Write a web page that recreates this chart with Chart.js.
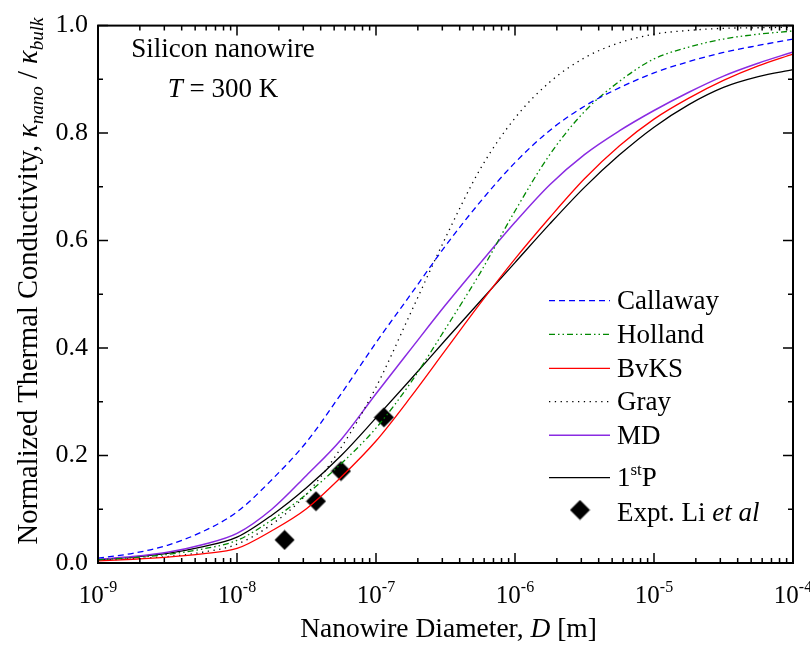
<!DOCTYPE html>
<html>
<head>
<meta charset="utf-8">
<script src="https://cdn.jsdelivr.net/npm/chart.js@4.4.1/dist/chart.umd.min.js"></script>
<style>
  html, body { margin: 0; padding: 0; background: #fff; }
</style>
</head>
<body>
<canvas id="chart" width="810" height="646"></canvas>
<script>
// diameters in metres, quarter-decade steps from 1e-9 to 1e-4
const diameters = [1e-9, 1.78e-9, 3.16e-9, 5.62e-9, 1e-8, 1.78e-8, 3.16e-8, 5.62e-8, 1e-7, 1.78e-7, 3.16e-7,
                   5.62e-7, 1e-6, 1.78e-6, 3.16e-6, 5.62e-6, 1e-5, 1.78e-5, 3.16e-5, 5.62e-5, 1e-4];

const callaway = [0.009, 0.018, 0.033, 0.058, 0.095, 0.155, 0.225, 0.315, 0.410, 0.500, 0.590,
                  0.672, 0.745, 0.805, 0.850, 0.884, 0.912, 0.933, 0.950, 0.963, 0.975];
const holland  = [0.006, 0.010, 0.016, 0.026, 0.042, 0.080, 0.128, 0.185, 0.251, 0.336, 0.436,
                  0.540, 0.655, 0.760, 0.840, 0.896, 0.938, 0.960, 0.975, 0.984, 0.990];
const bvks     = [0.004, 0.007, 0.011, 0.017, 0.027, 0.060, 0.101, 0.160, 0.227, 0.309, 0.396,
                  0.483, 0.566, 0.643, 0.715, 0.776, 0.826, 0.865, 0.898, 0.925, 0.947];
const gray     = [0.005, 0.008, 0.012, 0.020, 0.035, 0.072, 0.128, 0.215, 0.327, 0.466, 0.605,
                  0.733, 0.828, 0.895, 0.940, 0.968, 0.984, 0.991, 0.995, 0.996, 0.997];
const md       = [0.007, 0.012, 0.020, 0.034, 0.055, 0.100, 0.163, 0.230, 0.315, 0.398, 0.480,
                  0.558, 0.634, 0.704, 0.760, 0.804, 0.842, 0.876, 0.906, 0.930, 0.951];
const firstP   = [0.006, 0.011, 0.018, 0.030, 0.048, 0.089, 0.140, 0.200, 0.270, 0.342, 0.415,
                  0.487, 0.559, 0.631, 0.699, 0.759, 0.811, 0.853, 0.885, 0.905, 0.918];

// experiment (Li et al)
const exptD = [2.2e-8, 3.7e-8, 5.6e-8, 1.14e-7];
const exptK = [0.043, 0.115, 0.171, 0.271];

const xTickPowers = [-9, -8, -7, -6, -5, -4];
const yTickValues = [0, 0.2, 0.4, 0.6, 0.8, 1.0];

const SERIF = "'Liberation Serif', 'Times New Roman', serif";

function pts(ys) {
  return diameters.map((d, i) => ({ x: d, y: ys[i] }));
}

function lineSet(label, ys, color, dash, width) {
  return {
    label: label,
    data: pts(ys),
    borderColor: color,
    borderWidth: width || 1.3,
    borderDash: dash,
    pointRadius: 0,
    fill: false,
    cubicInterpolationMode: 'monotone'
  };
}

// solid black diamond used as point style
function diamondImage(r) {
  const c = document.createElement('canvas');
  c.width = c.height = 2 * r + 1;
  const g = c.getContext('2d');
  const m = r + 0.5;
  g.fillStyle = '#000';
  g.beginPath();
  g.moveTo(m, m - r); g.lineTo(m + r, m); g.lineTo(m, m + r); g.lineTo(m - r, m);
  g.closePath();
  g.fill();
  return c;
}
const diamond = diamondImage(10);

const datasets = [
  lineSet('Callaway', callaway, '#0000ff', [6, 4]),
  lineSet('Holland', holland, '#008800', [6, 3, 1.5, 3, 1.5, 3]),
  lineSet('BvKS', bvks, '#ff0000', []),
  lineSet('Gray', gray, '#000000', [1.3, 4.5]),
  lineSet('MD', md, '#8a2be2', [], 1.5),
  lineSet('1stP', firstP, '#000000', []),
  {
    label: 'Expt',
    data: exptD.map((d, i) => ({ x: d, y: exptK[i] })),
    showLine: false,
    pointStyle: diamond,
    pointRadius: 10,
    pointHoverRadius: 10,
    backgroundColor: '#000',
    borderColor: '#000'
  }
];

// draw text made of parts with different fonts / offsets
function richText(ctx, parts, x, y, align) {
  let w = 0;
  parts.forEach(p => { ctx.font = p.font; w += ctx.measureText(p.text).width; });
  let cx = align === 'center' ? x - w / 2 : x;
  parts.forEach(p => {
    ctx.font = p.font;
    ctx.fillText(p.text, cx, y + (p.dy || 0));
    cx += ctx.measureText(p.text).width;
  });
}

const f = (size, italic) => (italic ? 'italic ' : '') + size + 'px ' + SERIF;

const decorations = {
  id: 'decorations',
  afterDraw(chart) {
    const { ctx, chartArea: a, scales: { x, y } } = chart;
    ctx.save();
    ctx.strokeStyle = '#000';
    ctx.fillStyle = '#000';
    ctx.textAlign = 'left';
    ctx.textBaseline = 'alphabetic';

    // frame
    ctx.lineWidth = 2;
    ctx.strokeRect(a.left, a.top, a.right - a.left, a.bottom - a.top);

    // x ticks (inward, top and bottom)
    ctx.lineWidth = 1.5;
    ctx.beginPath();
    x.ticks.forEach(t => {
      const lg = Math.log10(t.value);
      const major = Math.abs(lg - Math.round(lg)) < 1e-6;
      const len = major ? 10 : 5;
      const px = x.getPixelForValue(t.value);
      ctx.moveTo(px, a.bottom); ctx.lineTo(px, a.bottom - len);
      ctx.moveTo(px, a.top); ctx.lineTo(px, a.top + len);
    });
    // y ticks (inward, left and right)
    for (let i = 0; i <= 10; i++) {
      const py = y.getPixelForValue(i / 10);
      const len = i % 2 === 0 ? 10 : 5;
      ctx.moveTo(a.left, py); ctx.lineTo(a.left + len, py);
      ctx.moveTo(a.right, py); ctx.lineTo(a.right - len, py);
    }
    ctx.stroke();

    // x tick labels 10^n
    xTickPowers.forEach(p => {
      const px = x.getPixelForValue(Math.pow(10, p));
      richText(ctx, [
        { text: '10', font: f(25) },
        { text: String(p), font: f(16), dy: -11 }
      ], px, 603, 'center');
    });

    // axis titles
    richText(ctx, [
      { text: 'Nanowire Diameter, ', font: f(27.5) },
      { text: 'D', font: f(27.5, true) },
      { text: ' [m]', font: f(27.5) }
    ], (a.left + a.right) / 2 + 3, 637, 'center');

    ctx.save();
    ctx.translate(37, 281);
    ctx.rotate(-Math.PI / 2);
    richText(ctx, [
      { text: 'Normalized Thermal Conductivity, ', font: f(28.5) },
      { text: '\u03ba', font: f(28.5, true) },
      { text: 'nano', font: f(19, true), dy: 6 },
      { text: ' / ', font: f(28.5) },
      { text: '\u03ba', font: f(28.5, true) },
      { text: 'bulk', font: f(19, true), dy: 6 }
    ], 0, 0, 'center');
    ctx.restore();

    // annotation
    richText(ctx, [{ text: 'Silicon nanowire', font: f(27) }], 223, 57, 'center');
    richText(ctx, [
      { text: 'T', font: f(27, true) },
      { text: ' = 300 K', font: f(27) }
    ], 223, 97, 'center');

    // legend
    const rows = [300.7, 334.3, 368.3, 401.7, 435.3, 477.7];
    const x0 = 549, x1 = 610, tx = 617;
    for (let i = 0; i < 6; i++) {
      const ds = chart.data.datasets[i];
      ctx.save();
      ctx.strokeStyle = ds.borderColor;
      ctx.lineWidth = ds.borderWidth;
      ctx.setLineDash(ds.borderDash || []);
      ctx.beginPath();
      ctx.moveTo(x0, rows[i]); ctx.lineTo(x1, rows[i]);
      ctx.stroke();
      ctx.restore();
      const by = rows[i] + 8.7;
      if (ds.label === '1stP') {
        richText(ctx, [
          { text: '1', font: f(27) },
          { text: 'st', font: f(17), dy: -11 },
          { text: 'P', font: f(27) }
        ], tx, by, 'left');
      } else {
        richText(ctx, [{ text: ds.label, font: f(27) }], tx, by, 'left');
      }
    }
    // diamond sample
    ctx.drawImage(diamond, 580 - 10.5, 510 - 10.5);
    richText(ctx, [
      { text: 'Expt. Li ', font: f(27) },
      { text: 'et al', font: f(27, true) }
    ], tx, 520.7, 'left');

    ctx.restore();
  }
};

new Chart(document.getElementById('chart').getContext('2d'), {
  type: 'line',
  data: { datasets: datasets },
  options: {
    responsive: false,
    animation: false,
    devicePixelRatio: 1,
    layout: { padding: { top: 13, right: 17, left: 0, bottom: 0 } },
    plugins: {
      legend: { display: false },
      tooltip: { enabled: false }
    },
    scales: {
      x: {
        type: 'logarithmic',
        min: 1e-9,
        max: 1e-4,
        grid: { display: false, drawTicks: false },
        border: { display: false },
        ticks: { display: false },
        afterBuildTicks(scale) {
          const ticks = [];
          xTickPowers.forEach(p => {
            for (let m = 1; m <= 9; m++) {
              if (p === -4 && m > 1) break;
              ticks.push({ value: m * Math.pow(10, p) });
            }
          });
          scale.ticks = ticks;
        },
        afterFit(scale) { scale.height = 83; }
      },
      y: {
        min: 0,
        max: 1,
        grid: { display: false, drawTicks: false },
        border: { display: false },
        afterBuildTicks(scale) {
          scale.ticks = yTickValues.map(v => ({ value: v }));
        },
        ticks: {
          padding: 10,
          color: '#000',
          font: { family: SERIF, size: 26 },
          callback: v => Number(v).toFixed(1)
        },
        afterFit(scale) { scale.width = 98; }
      }
    }
  },
  plugins: [decorations]
});
</script>
</body>
</html>
